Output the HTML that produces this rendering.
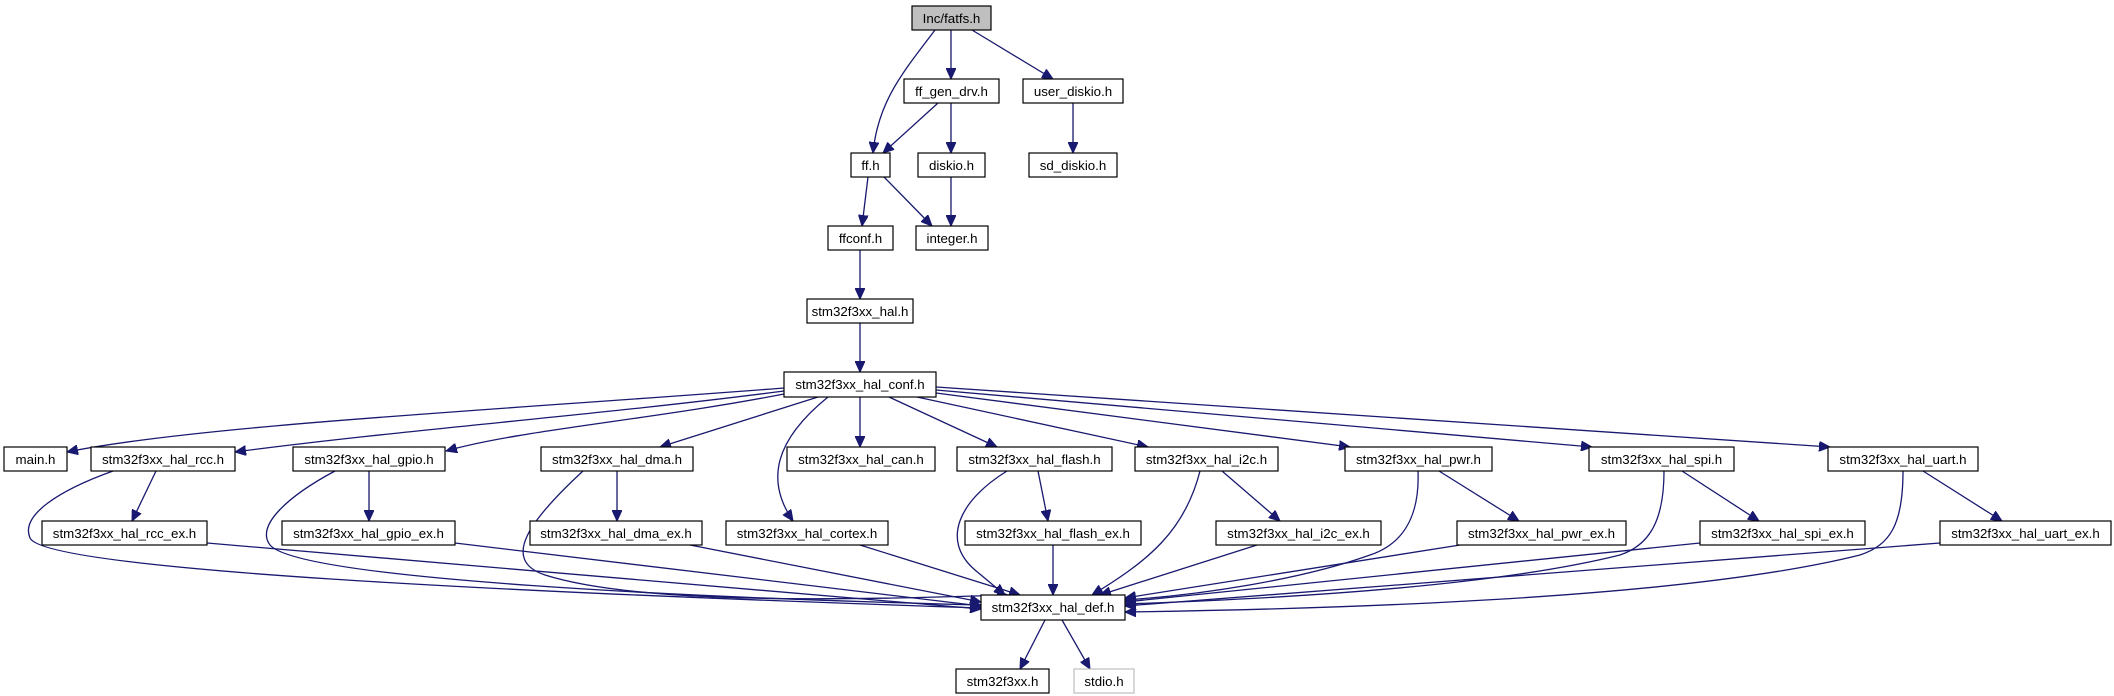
<!DOCTYPE html>
<html><head><meta charset="utf-8"><style>
html,body{margin:0;padding:0;background:#fff;}
svg{display:block;}
text{font-family:"Liberation Sans",Arial,sans-serif;font-size:13.3px;fill:#000;}
.e{fill:none;stroke:#191970;stroke-width:1.3;}
</style></head><body>
<svg width="2114" height="696" viewBox="0 0 2114 696" xmlns="http://www.w3.org/2000/svg">
<defs>
<marker id="a" markerWidth="12" markerHeight="10" refX="11" refY="5" orient="auto" markerUnits="userSpaceOnUse">
<path d="M0,0 L11,5 L0,10 z" fill="#191970" stroke="#191970"/>
</marker>
</defs>
<g marker-end="url(#a)">
<path class="e" d="M935,30 C905,70 878,100 873,153"/>
<path class="e" d="M951,30 L951,79"/>
<path class="e" d="M972,30 L1053,79"/>
<path class="e" d="M938,103 L883,153"/>
<path class="e" d="M951,103 L951,153"/>
<path class="e" d="M1073,103 L1073,153"/>
<path class="e" d="M868,177 L862,226"/>
<path class="e" d="M884,177 L932,226"/>
<path class="e" d="M951,177 L951,226"/>
<path class="e" d="M860,250 L860,299"/>
<path class="e" d="M860,323 L860,372"/>
<path class="e" d="M784,388 C500,410 200,425 67,452"/>
<path class="e" d="M784,391 C600,415 400,430 235,452"/>
<path class="e" d="M784,394 C650,420 520,430 446,451"/>
<path class="e" d="M818,397 L660,447"/>
<path class="e" d="M828,397 C775,440 765,480 793,521"/>
<path class="e" d="M860,397 L860,447"/>
<path class="e" d="M889,397 L997,447"/>
<path class="e" d="M917,397 L1148,447"/>
<path class="e" d="M936,393 L1350,447"/>
<path class="e" d="M936,390 L1592,447"/>
<path class="e" d="M936,387 L1830,447"/>
<path class="e" d="M156,471 L132,521"/>
<path class="e" d="M369,471 L369,521"/>
<path class="e" d="M617,471 L617,521"/>
<path class="e" d="M1038,471 L1048,521"/>
<path class="e" d="M1222,471 L1280,521"/>
<path class="e" d="M1439,471 L1519,521"/>
<path class="e" d="M1682,471 L1759,521"/>
<path class="e" d="M1923,471 L2002,521"/>
<path class="e" d="M113,471 C60,490 20,515 30,538 C45,570 500,592 981,608"/>
<path class="e" d="M335,471 C290,495 255,525 270,545 C300,580 700,598 981,605"/>
<path class="e" d="M583,471 C530,520 500,560 545,575 C640,605 850,600 1008,595"/>
<path class="e" d="M1007,471 C960,500 940,540 975,570 L1005,595"/>
<path class="e" d="M1200,471 C1185,530 1150,560 1092,595"/>
<path class="e" d="M1418,471 C1420,520 1400,545 1370,555 C1300,580 1200,595 1125,600"/>
<path class="e" d="M1664,471 C1664,520 1650,545 1620,555 C1500,585 1300,598 1125,604"/>
<path class="e" d="M1903,471 C1903,525 1890,545 1860,555 C1700,595 1400,608 1125,612"/>
<path class="e" d="M207,543 L981,609"/>
<path class="e" d="M455,543 L981,606"/>
<path class="e" d="M690,545 L981,602"/>
<path class="e" d="M860,545 L1020,595"/>
<path class="e" d="M1053,545 L1053,595"/>
<path class="e" d="M1257,545 L1100,595"/>
<path class="e" d="M1460,545 L1125,598"/>
<path class="e" d="M1700,543 L1125,602"/>
<path class="e" d="M1940,543 L1125,606"/>
<path class="e" d="M1045,620 L1020,669"/>
<path class="e" d="M1062,620 L1090,669"/>
</g>
<g stroke="#000" stroke-width="1.2" fill="#fff">
<rect x="912" y="6" width="79" height="24" fill="#bfbfbf"/>
<rect x="904" y="79" width="95" height="24"/>
<rect x="1023" y="79" width="100" height="24"/>
<rect x="851" y="153" width="39" height="24"/>
<rect x="918" y="153" width="67" height="24"/>
<rect x="1029" y="153" width="88" height="24"/>
<rect x="828" y="226" width="65" height="24"/>
<rect x="916" y="226" width="72" height="24"/>
<rect x="807" y="299" width="106" height="24"/>
<rect x="784" y="372" width="152" height="25"/>
<rect x="4" y="447" width="63" height="24"/>
<rect x="91" y="447" width="144" height="24"/>
<rect x="293" y="447" width="152" height="24"/>
<rect x="541" y="447" width="152" height="24"/>
<rect x="787" y="447" width="148" height="24"/>
<rect x="957" y="447" width="155" height="24"/>
<rect x="1135" y="447" width="143" height="24"/>
<rect x="1345" y="447" width="147" height="24"/>
<rect x="1589" y="447" width="145" height="24"/>
<rect x="1828" y="447" width="150" height="24"/>
<rect x="42" y="521" width="165" height="24"/>
<rect x="282" y="521" width="173" height="24"/>
<rect x="530" y="521" width="172" height="24"/>
<rect x="726" y="521" width="162" height="24"/>
<rect x="965" y="521" width="176" height="24"/>
<rect x="1216" y="521" width="165" height="24"/>
<rect x="1457" y="521" width="169" height="24"/>
<rect x="1700" y="521" width="165" height="24"/>
<rect x="1940" y="521" width="171" height="24"/>
<rect x="981" y="595" width="144" height="25"/>
<rect x="956" y="669" width="93" height="24"/>
<rect x="1074" y="669" width="60" height="24" stroke="#bfbfbf"/>
</g>
<g text-anchor="middle">
<text x="951.5" y="23">Inc/fatfs.h</text>
<text x="951.5" y="96">ff_gen_drv.h</text>
<text x="1073" y="96">user_diskio.h</text>
<text x="870.5" y="170">ff.h</text>
<text x="951.5" y="170">diskio.h</text>
<text x="1073" y="170">sd_diskio.h</text>
<text x="860.5" y="243">ffconf.h</text>
<text x="952" y="243">integer.h</text>
<text x="860" y="316">stm32f3xx_hal.h</text>
<text x="860" y="389">stm32f3xx_hal_conf.h</text>
<text x="35.5" y="464">main.h</text>
<text x="163" y="464">stm32f3xx_hal_rcc.h</text>
<text x="369" y="464">stm32f3xx_hal_gpio.h</text>
<text x="617" y="464">stm32f3xx_hal_dma.h</text>
<text x="861" y="464">stm32f3xx_hal_can.h</text>
<text x="1034.5" y="464">stm32f3xx_hal_flash.h</text>
<text x="1206.5" y="464">stm32f3xx_hal_i2c.h</text>
<text x="1418.5" y="464">stm32f3xx_hal_pwr.h</text>
<text x="1661.5" y="464">stm32f3xx_hal_spi.h</text>
<text x="1903" y="464">stm32f3xx_hal_uart.h</text>
<text x="124.5" y="538">stm32f3xx_hal_rcc_ex.h</text>
<text x="368.5" y="538">stm32f3xx_hal_gpio_ex.h</text>
<text x="616" y="538">stm32f3xx_hal_dma_ex.h</text>
<text x="807" y="538">stm32f3xx_hal_cortex.h</text>
<text x="1053" y="538">stm32f3xx_hal_flash_ex.h</text>
<text x="1298.5" y="538">stm32f3xx_hal_i2c_ex.h</text>
<text x="1541.5" y="538">stm32f3xx_hal_pwr_ex.h</text>
<text x="1782.5" y="538">stm32f3xx_hal_spi_ex.h</text>
<text x="2025.5" y="538">stm32f3xx_hal_uart_ex.h</text>
<text x="1053" y="612">stm32f3xx_hal_def.h</text>
<text x="1002.5" y="686">stm32f3xx.h</text>
<text x="1104" y="686">stdio.h</text>
</g>
</svg>
</body></html>
